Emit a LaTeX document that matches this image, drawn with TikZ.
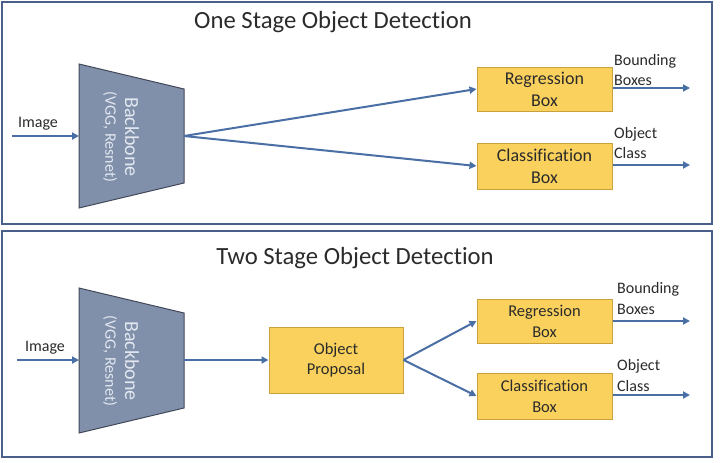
\documentclass[tikz,border=0pt]{standalone}
\usepackage{fontspec}
\setmainfont{Carlito}[Ligatures=NoCommon]
\usetikzlibrary{arrows.meta}
\definecolor{panelc}{HTML}{4A5F8A}
\definecolor{boxf}{HTML}{F9D15C}
\definecolor{boxb}{HTML}{C9A23E}
\definecolor{arrc}{HTML}{4A6FA5}
\definecolor{trapf}{HTML}{8190AA}
\definecolor{trapb}{HTML}{414858}
\definecolor{trapt}{HTML}{E2E7F0}
\definecolor{txt}{HTML}{2B2B2B}
\tikzset{
  panel/.style={draw=panelc, line width=2.5pt},
  ybox/.style={draw=boxb, fill=boxf, line width=1pt, minimum width=135pt, align=center, text=txt, inner sep=0pt},
  arr/.style={draw=arrc, line width=2pt, -{Triangle[length=7pt,width=7pt]}},
  lbl/.style={font=\fontsize{16}{20.5}\selectfont, text=txt, align=left, inner sep=0pt},
  ttl/.style={font=\fontsize{24.7}{28}\selectfont, text=txt, inner sep=0pt},
  trap/.style={draw=trapb, fill=trapf, line width=1pt},
  bbtext/.style={rotate=-90, text=trapt, inner sep=0pt, font=\fontsize{20}{24}\selectfont},
  bbsub/.style={rotate=-90, text=trapt, inner sep=0pt, font=\fontsize{16}{20}\selectfont}
}
\begin{document}
\begin{tikzpicture}[x=1pt,y=-1pt]
\useasboundingbox (0,0) rectangle (720,463);
\fill[white] (0,0) rectangle (720,463);
% panels
\draw[panel] (2,2) rectangle (712,224);
\draw[panel] (2,231) rectangle (712,457);

% ---------- top panel ----------
\node[ttl] (t1) at (333,22) {One Stage Object Detection};
\draw[trap] (79,64) -- (184,89) -- (184,183) -- (79,208) -- cycle;
\coordinate (bb1in) at (79,136);
\coordinate (bb1out) at (184,136);
\node[bbtext] (bb1) at (132,137) {Backbone};
\node[bbsub] (bb1s) at (110,137) {(VGG, Resnet)};
\coordinate (im1) at (12,136);
\node[lbl] (iml1) at (38,124) {Image};
\draw[arr] (im1) -- (bb1in);

\node[ybox, minimum height=44pt, font=\fontsize{18}{22}\selectfont] (reg1) at (544.5,89) {Regression\\Box};
\node[ybox, minimum height=46pt, font=\fontsize{18}{22}\selectfont] (cls1) at (544.5,166) {Classification\\Box};
\draw[arr] (bb1out) -- (reg1.west);
\draw[arr] (bb1out) -- (cls1.west);
\coordinate (o1a) at (690,88);
\coordinate (o1b) at (690,165);
\draw[arr] (reg1.east |- o1a) -- (o1a);
\draw[arr] (cls1.east |- o1b) -- (o1b);
\node[lbl, anchor=west] (lb1) at (614,70) {Bounding\\Boxes};
\node[lbl, anchor=west] (lc1) at (614,143) {Object\\Class};

% ---------- bottom panel ----------
\node[ttl] (t2) at (355,258) {Two Stage Object Detection};
\draw[trap] (79,288) -- (184,313) -- (184,408) -- (79,433) -- cycle;
\coordinate (bb2in) at (79,360);
\coordinate (bb2out) at (184,360);
\node[bbtext] (bb2) at (132,361) {Backbone};
\node[bbsub] (bb2s) at (110,361) {(VGG, Resnet)};
\coordinate (im2) at (17,360);
\node[lbl] (iml2) at (45,348) {Image};
\draw[arr] (im2) -- (bb2in);

\node[ybox, minimum width=134pt, minimum height=66pt, font=\fontsize{16.5}{20}\selectfont] (prop) at (336,360) {Object\\Proposal};
\draw[arr] (bb2out) -- (prop.west);

\node[ybox, minimum height=44pt, font=\fontsize{16.5}{21}\selectfont] (reg2) at (544.5,321) {Regression\\Box};
\node[ybox, minimum height=46pt, font=\fontsize{16.5}{21}\selectfont] (cls2) at (544.5,396) {Classification\\Box};
\draw[arr] (prop.east) -- (reg2.west);
\draw[arr] (prop.east) -- (cls2.west);
\coordinate (o2a) at (690,321);
\coordinate (o2b) at (690,395);
\draw[arr] (reg2.east |- o2a) -- (o2a);
\draw[arr] (cls2.east |- o2b) -- (o2b);
\node[lbl, anchor=west] (lb2) at (617,298.5) {Bounding\\Boxes};
\node[lbl, anchor=west] (lc2) at (617,375.5) {Object\\Class};
\end{tikzpicture}
\end{document}
